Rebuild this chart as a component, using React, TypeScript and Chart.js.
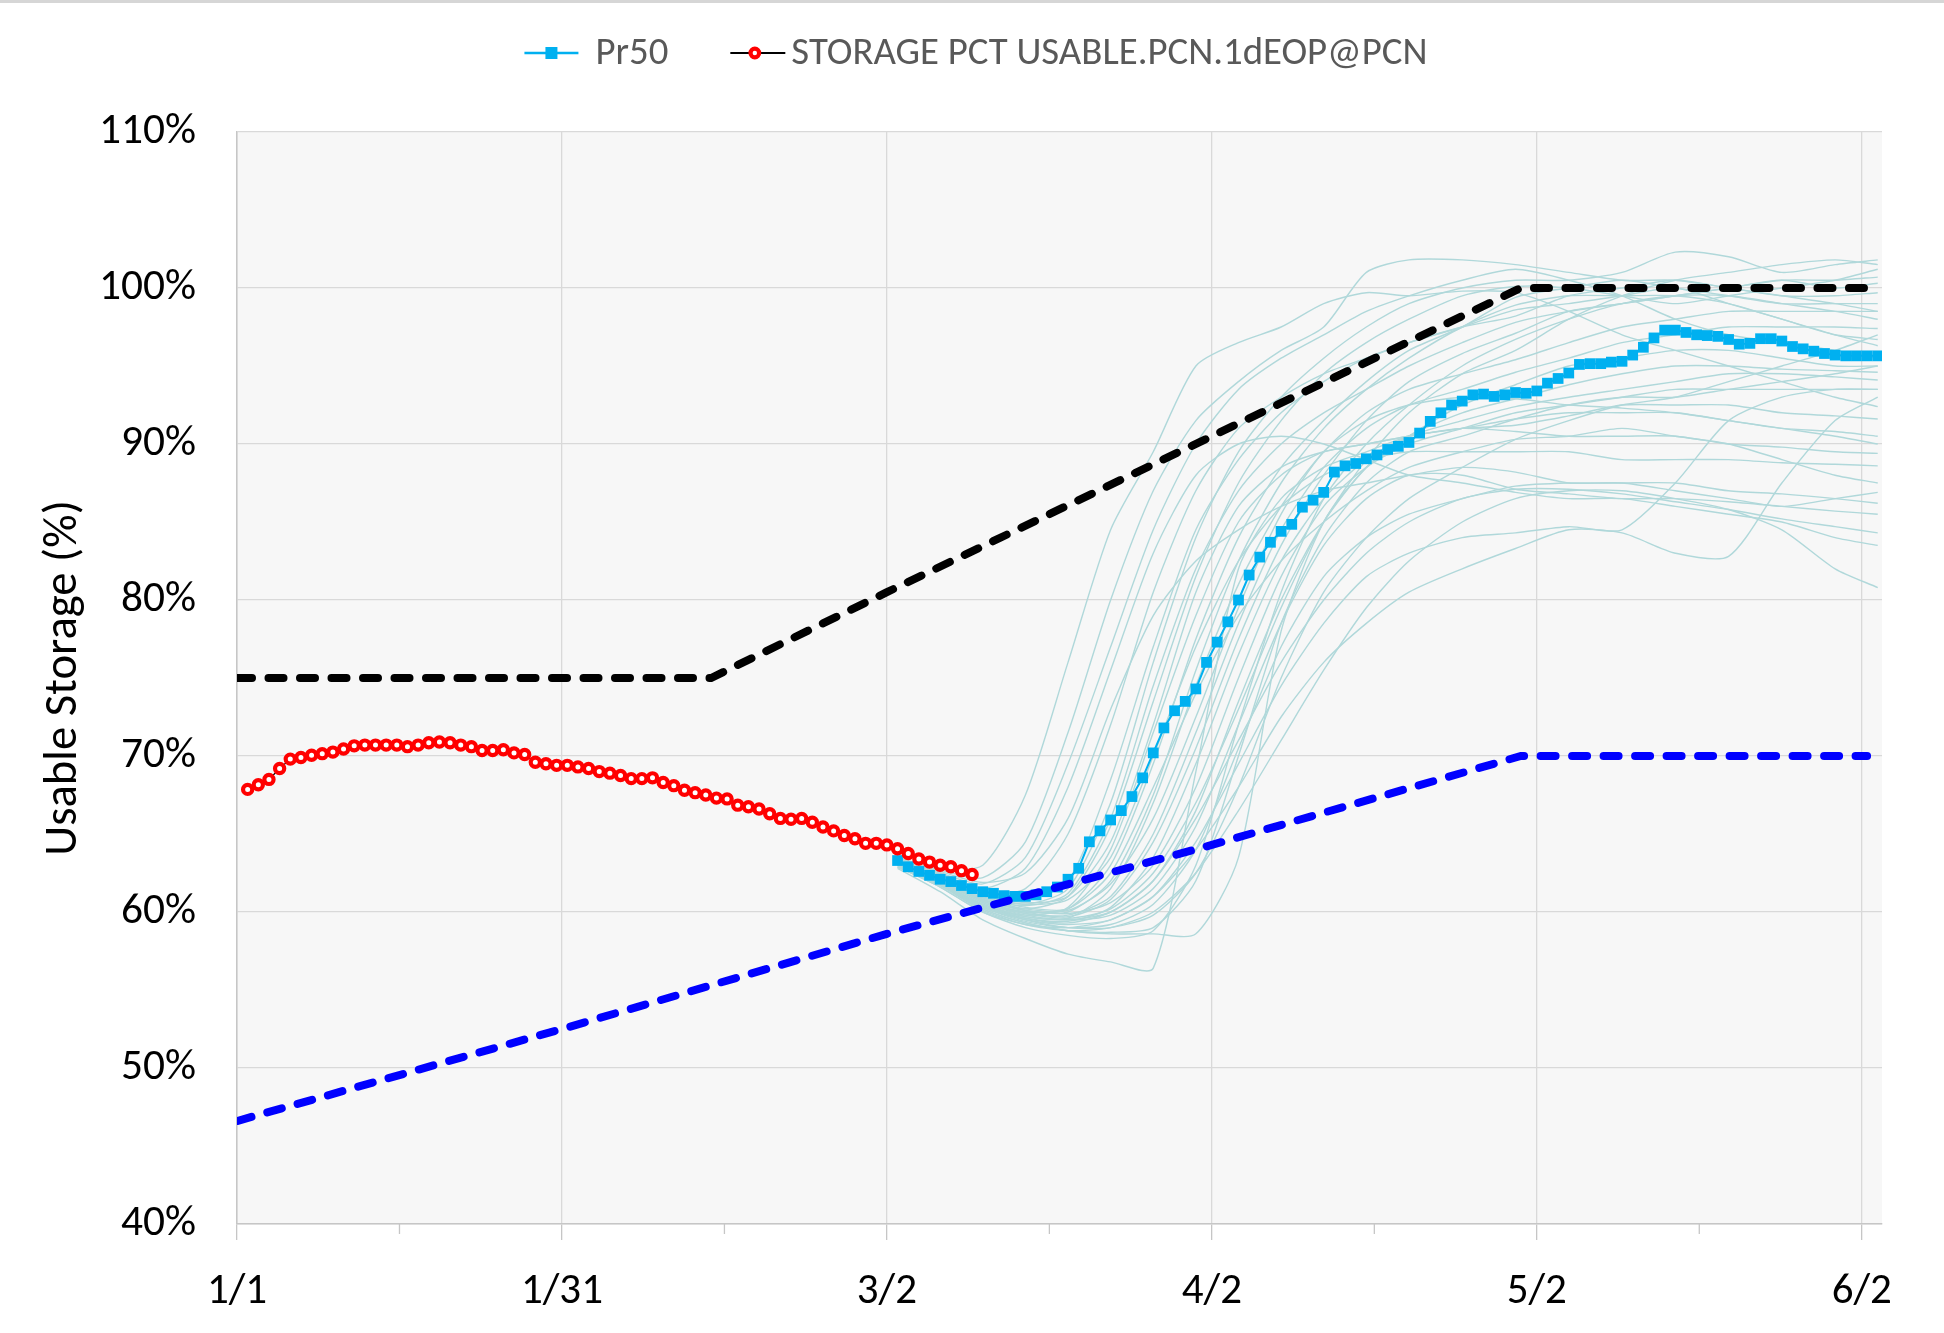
import React, { useEffect, useRef } from 'react';
import { Chart, registerables } from 'chart.js';

Chart.register(...registerables);

// ---------------- data ----------------
const X_TICK_DAYS = [0, 15.25, 30.5, 45.75, 61, 76.25, 91.5, 106.75, 122, 137.25, 152.5];
const X_TICK_LABELS = ['1/1', '', '1/31', '', '3/2', '', '4/2', '', '5/2', '', '6/2'];
const X_MAX_DAY = 154.4;
const Y_MIN = 40;
const Y_MAX = 110;
const Y_STEP = 10;

const LEGEND_PR50 = 'Pr50';
const LEGEND_OBS = 'STORAGE PCT USABLE.PCN.1dEOP@PCN';
const Y_TITLE = 'Usable Storage (%)';

// observed storage, daily from day 1
const OBS_START_DAY = 1;
const OBS_VALUES = [
  67.86, 68.16, 68.5, 69.2, 69.8, 69.9, 70.05, 70.15, 70.25, 70.45,
  70.65, 70.7, 70.7, 70.7, 70.7, 70.6, 70.7, 70.85, 70.9, 70.85,
  70.7, 70.6, 70.35, 70.35, 70.4, 70.2, 70.1, 69.6, 69.5, 69.4,
  69.4, 69.3, 69.2, 69.0, 68.9, 68.75, 68.55, 68.55, 68.6, 68.3,
  68.1, 67.8, 67.65, 67.5, 67.3, 67.25, 66.85, 66.75, 66.6, 66.3,
  66.0, 65.95, 66.0, 65.75, 65.45, 65.2, 64.9, 64.7, 64.4, 64.4,
  64.3, 64.05, 63.75, 63.4, 63.2, 63.0, 62.9, 62.65, 62.4,
];

// Pr50, daily from day 62
const PR50_START_DAY = 62;
const PR50_VALUES = [
  63.3, 62.9, 62.6, 62.35, 62.1, 61.95, 61.7, 61.5, 61.3, 61.2,
  61.05, 61.0, 61.0, 61.1, 61.3, 61.6, 62.1, 62.8, 64.5, 65.2,
  65.9, 66.5, 67.4, 68.6, 70.2, 71.8, 72.9, 73.5, 74.3, 76.0,
  77.3, 78.6, 80.0, 81.6, 82.75, 83.7, 84.4, 84.85, 85.95, 86.4,
  86.9, 88.2, 88.6, 88.75, 89.05, 89.3, 89.65, 89.85, 90.1, 90.7,
  91.45, 92.0, 92.5, 92.75, 93.15, 93.2, 93.05, 93.15, 93.3, 93.25,
  93.4, 93.9, 94.2, 94.55, 95.1, 95.15, 95.15, 95.25, 95.3, 95.7,
  96.2, 96.8, 97.3, 97.3, 97.15, 97.0, 96.95, 96.9, 96.7, 96.4,
  96.45, 96.75, 96.75, 96.6, 96.25, 96.1, 95.95, 95.8, 95.7, 95.65,
  95.65, 95.65, 95.65,
];

// upper (black dashed) and lower (blue dashed) guide curves
const UPPER_DAYS = [0, 44.5, 61, 91.5, 120.5, 153];
const UPPER_VALUES = [75, 75, 80.5, 90.5, 100, 100];
const LOWER_DAYS = [0, 30.5, 61, 91.5, 120.5, 153];
const LOWER_VALUES = [46.6, 52.5, 58.6, 64.3, 70, 70];

// ensemble traces
const ENS_DAYS = [62, 66, 70, 74, 78, 82, 86, 90, 94, 98, 102, 106, 110, 115, 120, 125, 130, 135, 140, 145, 150, 154];
const ENSEMBLE = [
  [63.4, 62.8, 63.0, 67.5, 76.0, 84.5, 89.5, 95.0, 96.5, 97.5, 99.0, 99.7, 99.5, 99.8, 99.7, 98.5, 97.0, 96.0, 95.0, 94.0, 93.0, 92.4],
  [63.5, 62.7, 62.2, 64.5, 71.5, 80.0, 87.0, 91.5, 94.0, 96.0, 97.5, 101.0, 101.8, 101.8, 101.5, 101.0, 100.5, 100.5, 100.0, 99.5, 99.0, 98.5],
  [63.2, 62.3, 61.5, 62.8, 68.0, 75.5, 83.0, 88.0, 90.0, 90.5, 90.0, 89.0, 88.0, 87.5, 86.9, 86.5, 86.5, 86.0, 85.5, 85.0, 84.0, 83.5],
  [63.3, 62.5, 61.8, 63.5, 69.5, 77.0, 84.5, 90.0, 93.5, 95.5, 97.0, 98.5, 99.5, 100.5, 101.2, 100.5, 99.5, 98.0, 97.0, 96.5, 96.0, 95.5],
  [63.1, 62.2, 61.2, 61.5, 65.0, 72.0, 80.5, 87.0, 91.0, 93.0, 94.5, 95.5, 96.5, 97.5, 98.2, 99.5, 100.0, 100.5, 100.0, 99.5, 99.5, 99.7],
  [63.4, 62.6, 61.9, 62.5, 66.0, 73.0, 79.0, 82.5, 84.5, 86.0, 87.0, 87.5, 88.0, 88.5, 88.2, 87.5, 87.5, 87.0, 86.5, 86.0, 86.5, 86.9],
  [63.3, 62.3, 61.0, 60.5, 61.5, 67.0, 76.0, 84.0, 89.5, 93.0, 95.5, 97.5, 99.0, 100.0, 100.5, 100.5, 101.0, 102.3, 102.0, 101.0, 101.5, 101.8],
  [63.0, 62.0, 60.8, 60.2, 61.0, 65.5, 73.5, 81.5, 87.5, 91.5, 94.5, 96.5, 98.0, 99.5, 100.1, 100.0, 99.5, 99.0, 99.5, 100.0, 100.5, 101.2],
  [63.5, 62.5, 61.3, 60.8, 62.0, 68.5, 77.0, 84.5, 89.0, 92.0, 94.0, 95.5, 96.5, 97.5, 98.6, 99.0, 99.5, 100.0, 99.0, 98.0, 97.0, 96.3],
  [63.2, 62.2, 60.9, 60.4, 61.2, 66.0, 74.5, 82.0, 87.0, 90.0, 92.0, 93.5, 95.0, 96.5, 97.8, 98.5, 99.0, 99.5, 100.0, 100.5, 100.5, 100.7],
  [63.0, 61.9, 60.5, 59.8, 60.3, 64.0, 71.5, 79.0, 85.0, 88.0, 89.5, 90.0, 90.5, 91.0, 91.2, 91.8, 92.5, 92.5, 92.5, 92.0, 91.8, 91.6],
  [63.3, 62.4, 61.2, 60.6, 61.0, 64.5, 72.0, 80.5, 86.0, 88.5, 89.5, 90.0, 90.5, 91.0, 90.8, 90.5, 90.5, 90.5, 90.0, 89.8, 89.5, 89.4],
  [63.1, 62.0, 60.7, 60.0, 60.2, 63.0, 69.5, 77.5, 84.0, 88.5, 91.5, 94.0, 96.0, 97.5, 99.4, 100.0, 100.5, 100.0, 99.5, 99.0, 99.0, 99.0],
  [63.4, 62.4, 61.1, 60.5, 60.8, 63.5, 70.0, 77.0, 82.5, 86.0, 88.0, 89.0, 89.5, 89.5, 89.5, 89.5, 89.0, 89.0, 89.0, 88.8, 88.7, 88.6],
  [63.2, 62.1, 60.8, 60.1, 60.0, 62.0, 67.5, 75.5, 82.5, 87.5, 91.0, 93.5, 95.5, 97.5, 98.9, 99.5, 99.5, 99.5, 99.0, 98.0, 97.0, 96.7],
  [63.0, 61.8, 60.4, 59.7, 59.6, 61.5, 67.0, 74.5, 81.0, 86.0, 89.5, 92.0, 93.5, 94.5, 95.4, 96.5, 97.5, 98.0, 98.5, 98.5, 98.5, 98.5],
  [63.3, 62.2, 60.9, 60.2, 60.1, 61.8, 66.0, 72.5, 79.5, 85.5, 89.5, 91.5, 92.5, 93.0, 92.9, 92.5, 92.3, 92.0, 91.5, 91.0, 90.5, 90.0],
  [63.1, 62.0, 60.6, 59.9, 59.8, 61.0, 65.0, 71.5, 78.5, 84.5, 88.5, 91.0, 92.5, 93.5, 94.6, 95.5, 96.5, 97.0, 97.5, 97.5, 97.5, 97.4],
  [63.4, 62.3, 61.0, 60.3, 60.2, 62.5, 68.0, 74.0, 79.0, 82.5, 85.0, 87.0, 88.5, 89.5, 90.3, 90.5, 91.0, 90.5, 90.0, 89.0, 88.0, 87.5],
  [63.2, 62.1, 60.7, 60.0, 59.7, 60.8, 64.5, 70.5, 77.5, 83.5, 88.0, 91.5, 94.0, 95.8, 97.1, 98.5, 99.0, 99.5, 100.0, 100.5, 100.0, 100.3],
  [63.0, 61.9, 60.4, 59.6, 59.4, 60.3, 63.5, 69.5, 76.5, 82.5, 86.5, 89.0, 90.5, 91.5, 92.4, 93.0, 93.5, 94.0, 94.5, 94.5, 94.3, 94.1],
  [63.3, 62.2, 60.8, 60.1, 59.9, 60.6, 63.0, 68.0, 75.0, 81.5, 86.0, 88.5, 90.0, 91.0, 92.0, 92.5, 93.0, 93.5, 93.5, 93.5, 93.5, 93.5],
  [63.1, 61.9, 60.5, 59.7, 59.5, 60.0, 62.0, 66.5, 73.5, 80.0, 85.0, 88.5, 90.5, 92.5, 93.8, 95.0, 95.5, 96.0, 96.0, 95.5, 95.0, 95.0],
  [63.2, 62.0, 60.6, 59.8, 59.5, 59.8, 61.5, 65.5, 72.0, 78.5, 83.5, 86.5, 88.0, 88.0, 87.1, 86.8, 86.5, 86.5, 86.3, 86.0, 85.7, 85.5],
  [63.0, 61.8, 60.2, 59.3, 58.8, 58.7, 59.0, 62.0, 70.0, 78.5, 84.0, 87.5, 89.5, 90.5, 91.6, 92.5, 93.0, 93.0, 93.5, 94.0, 94.5, 95.0],
  [62.9, 61.6, 60.0, 59.0, 58.5, 58.3, 58.8, 63.0, 72.0, 80.5, 86.5, 90.0, 92.5, 95.0, 96.7, 98.0, 99.0, 99.5, 99.5, 99.0, 98.5, 98.0],
  [62.8, 61.3, 59.5, 58.3, 57.3, 56.8, 56.4, 69.0, 82.0, 86.5, 88.5, 89.5, 90.5, 91.0, 91.6, 92.0, 92.0, 92.0, 91.5, 91.0, 90.8, 90.5],
  [63.0, 61.7, 60.2, 59.3, 58.8, 58.6, 58.6, 58.6, 63.5, 78.0, 85.0, 88.5, 90.5, 92.0, 92.9, 93.8, 94.5, 95.0, 95.0, 94.8, 94.7, 94.6],
  [63.1, 61.9, 60.4, 59.5, 59.0, 59.0, 59.8, 62.5, 68.0, 75.0, 80.5, 84.0, 86.5, 88.5, 90.3, 91.5, 92.5, 93.0, 94.0, 95.0, 96.0, 97.0],
  [63.0, 61.8, 60.3, 59.4, 59.0, 59.2, 60.5, 64.0, 70.5, 77.0, 81.5, 84.0, 85.5, 86.5, 87.3, 87.5, 87.5, 87.5, 87.0, 86.8, 86.5, 86.2],
  [62.9, 61.6, 60.0, 59.2, 59.0, 59.5, 61.0, 64.0, 68.0, 72.5, 76.0, 78.5, 80.5, 82.0, 83.3, 84.5, 84.3, 83.0, 82.8, 87.5, 91.5, 93.0],
  [62.9, 61.7, 60.1, 59.2, 58.8, 59.0, 60.0, 62.5, 66.5, 71.0, 75.5, 79.5, 82.5, 85.0, 86.5, 87.0, 87.0, 86.5, 85.8, 84.5, 82.0, 80.8],
  [63.0, 61.8, 60.3, 59.5, 59.2, 59.5, 61.0, 64.5, 69.5, 74.5, 78.5, 81.5, 83.0, 84.0, 84.3, 84.7, 84.5, 87.5, 91.5, 93.0, 93.5, 93.5],
  [63.1, 61.9, 60.4, 59.6, 59.3, 60.0, 62.0, 66.0, 71.0, 76.0, 80.0, 83.0, 85.0, 86.5, 87.1, 87.1, 86.8, 86.3, 85.8, 85.2, 84.7, 84.3],
  [63.2, 62.1, 60.7, 59.9, 59.6, 60.2, 62.5, 67.0, 73.0, 79.5, 85.0, 89.0, 92.0, 94.5, 96.0, 98.0, 99.5, 100.5, 101.0, 101.5, 101.8, 101.5],
];

// ---------------- styles ----------------
const W = 1944;
const H = 1333;
const PLOT_BG = '#f7f7f7';
const GRID = '#d9d9d9';
const AXIS = '#c6c6c6';
const PR50_COLOR = '#00b0f0';
const OBS_COLOR = '#ff0000';
const ENS_COLOR = '#b0d8da';
const LEGEND_TEXT = '#595959';

function fontAvailable(name: string): boolean {
  const c = document.createElement('canvas').getContext('2d');
  if (!c) return false;
  const s = 'abcdefghijklmnopqrstuvwxyzABCDEFGHIJKLMNOPQRSTUVWXYZ0123456789%/@.';
  for (const base of ['monospace', 'serif']) {
    c.font = `72px ${base}`;
    const w0 = c.measureText(s).width;
    c.font = `72px "${name}", ${base}`;
    const w1 = c.measureText(s).width;
    if (Math.abs(w1 - w0) > 0.5) return true;
  }
  return false;
}

function pickFamily(): string {
  const cands = ['Carlito', 'Liberation Sans Narrow', 'Liberation Sans', 'Arial'];
  for (const c of cands) if (fontAvailable(c)) return `"${c}"`;
  return 'sans-serif';
}

function fitSize(family: string, text: string, width: number): number {
  const c = document.createElement('canvas').getContext('2d');
  if (!c) return 40;
  c.font = `100px ${family}`;
  const w = c.measureText(text).width;
  return Math.round((width / w) * 1000) / 10;
}

export default function App() {
  const ref = useRef<HTMLCanvasElement | null>(null);

  useEffect(() => {
    if (!ref.current) return;
    const family = pickFamily();
    const tickSize = Math.min(48, fitSize(family, '110%', 97));
    const xTickSize = Math.min(48, fitSize(family, '1/31', 82));
    const legendSize = Math.min(44, fitSize(family, LEGEND_OBS, 637));
    const titleSize = Math.min(48, fitSize(family, Y_TITLE, 356));

    const plotBg = {
      id: 'plotBg',
      beforeDraw(chart: any) {
        const { ctx, chartArea } = chart;
        ctx.save();
        ctx.fillStyle = '#ffffff';
        ctx.fillRect(0, 0, chart.width, chart.height);
        ctx.fillStyle = '#d6d6d6';
        ctx.fillRect(0, 0, chart.width, 3);
        ctx.fillStyle = PLOT_BG;
        ctx.fillRect(chartArea.left, chartArea.top, chartArea.right - chartArea.left, chartArea.bottom - chartArea.top);
        ctx.restore();
      },
      afterDraw(chart: any) {
        const { ctx } = chart;
        const xs = chart.scales.x;
        ctx.save();
        ctx.strokeStyle = AXIS;
        ctx.lineWidth = 1.3;
        xs.ticks.forEach((t: any, i: number) => {
          if (i % 2 === 1) {
            const px = xs.getPixelForValue(t.value);
            ctx.beginPath();
            ctx.moveTo(px, xs.top);
            ctx.lineTo(px, xs.top + 10);
            ctx.stroke();
          }
        });
        ctx.restore();
      },
    };

    const legendPlugin = {
      id: 'comboLegend',
      afterDraw(chart: any) {
        const { ctx } = chart;
        ctx.save();
        ctx.font = `${legendSize}px ${family}`;
        const w1 = ctx.measureText(LEGEND_PR50).width;
        const w2 = ctx.measureText(LEGEND_OBS).width;
        const sym1 = 54, gap1 = 17, between = 62, sym2 = 55, gap2 = 6;
        const total = sym1 + gap1 + w1 + between + sym2 + gap2 + w2;
        let x = (chart.width - total) / 2 + 4;
        const y = 53;
        // Pr50 symbol
        ctx.strokeStyle = PR50_COLOR;
        ctx.lineWidth = 2.5;
        ctx.beginPath();
        ctx.moveTo(x, y);
        ctx.lineTo(x + sym1, y);
        ctx.stroke();
        ctx.fillStyle = PR50_COLOR;
        ctx.fillRect(x + sym1 / 2 - 6, y - 6, 12, 12);
        x += sym1 + gap1;
        ctx.fillStyle = LEGEND_TEXT;
        ctx.textBaseline = 'middle';
        ctx.textAlign = 'left';
        ctx.fillText(LEGEND_PR50, x, y + 1);
        x += w1 + between;
        // observed symbol
        ctx.strokeStyle = '#000000';
        ctx.lineWidth = 2;
        ctx.beginPath();
        ctx.moveTo(x, y);
        ctx.lineTo(x + sym2, y);
        ctx.stroke();
        ctx.beginPath();
        ctx.arc(x + sym2 / 2 - 3, y, 4.3, 0, Math.PI * 2);
        ctx.fillStyle = '#ffffff';
        ctx.fill();
        ctx.strokeStyle = OBS_COLOR;
        ctx.lineWidth = 4.2;
        ctx.stroke();
        x += sym2 + gap2;
        ctx.fillStyle = LEGEND_TEXT;
        ctx.fillText(LEGEND_OBS, x, y + 1);
        ctx.restore();
      },
    };

    const datasets: any[] = [];
    datasets.push({
      label: LEGEND_OBS,
      data: OBS_VALUES.map((v, i) => ({ x: OBS_START_DAY + i, y: v })),
      borderColor: '#000000',
      borderWidth: 1.2,
      pointStyle: 'circle',
      pointRadius: 4.6,
      pointBorderWidth: 4.2,
      pointBorderColor: OBS_COLOR,
      pointBackgroundColor: '#ffffff',
      order: 0,
    });
    datasets.push({
      label: 'upper',
      data: UPPER_DAYS.map((d, i) => ({ x: d, y: UPPER_VALUES[i] })),
      borderColor: '#000000',
      borderWidth: 8,
      borderDash: [15, 16.5],
      borderCapStyle: 'round',
      pointRadius: 0,
      order: 1,
    });
    datasets.push({
      label: 'lower',
      data: LOWER_DAYS.map((d, i) => ({ x: d, y: LOWER_VALUES[i] })),
      borderColor: '#0000ff',
      borderWidth: 8,
      borderDash: [15, 16.5],
      borderCapStyle: 'round',
      pointRadius: 0,
      order: 1,
    });
    datasets.push({
      label: LEGEND_PR50,
      data: PR50_VALUES.map((v, i) => ({ x: PR50_START_DAY + i, y: v })),
      borderColor: PR50_COLOR,
      borderWidth: 2,
      pointStyle: 'rect',
      pointRadius: 7.6,
      pointBorderWidth: 0,
      pointBackgroundColor: PR50_COLOR,
      order: 2,
    });
    ENSEMBLE.forEach((trace, k) => {
      datasets.push({
        label: `ens${k}`,
        data: trace.map((v, i) => ({ x: ENS_DAYS[i], y: v })),
        borderColor: ENS_COLOR,
        borderWidth: 1.4,
        pointRadius: 0,
        tension: 0.25,
        order: 3,
      });
    });

    const chart = new Chart(ref.current, {
      type: 'line',
      data: { datasets },
      plugins: [plotBg, legendPlugin],
      options: {
        animation: false,
        responsive: false,
        devicePixelRatio: 1,
        events: [],
        layout: { padding: { top: 132, right: 62, bottom: 0, left: 0 } },
        plugins: { legend: { display: false }, tooltip: { enabled: false } },
        scales: {
          x: {
            type: 'linear',
            min: 0,
            max: X_MAX_DAY,
            afterBuildTicks: (scale: any) => {
              scale.ticks = X_TICK_DAYS.map((v) => ({ value: v }));
            },
            afterFit: (scale: any) => {
              scale.height = H - 1224;
            },
            border: { display: true, color: AXIS, width: 1.5 },
            grid: {
              color: (c: any) => (c.index % 2 === 0 ? GRID : 'rgba(0,0,0,0)'),
              lineWidth: 1.3,
              drawTicks: true,
              tickLength: 16,
              tickColor: (c: any) => (c.index % 2 === 0 ? AXIS : 'rgba(0,0,0,0)'),
              tickWidth: 1.3,
            },
            ticks: {
              autoSkip: false,
              maxRotation: 0,
              minRotation: 0,
              padding: 26,
              color: '#000000',
              font: { family, size: xTickSize },
              callback: (_v: any, i: number) => X_TICK_LABELS[i],
            },
          },
          y: {
            min: Y_MIN,
            max: Y_MAX,
            afterFit: (scale: any) => {
              scale.width = 237;
            },
            border: { display: true, color: AXIS, width: 1.5 },
            grid: { color: GRID, lineWidth: 1.3, drawTicks: false },
            ticks: {
              stepSize: Y_STEP,
              padding: 41,
              color: '#000000',
              font: { family, size: tickSize },
              callback: (v: any) => `${v}%`,
            },
            title: {
              display: true,
              text: Y_TITLE,
              color: '#000000',
              font: { family, size: titleSize },
              padding: { top: 64 - titleSize * 0.6, bottom: 0 },
            },
          },
        },
      },
    });
    return () => chart.destroy();
  }, []);

  return (
    <div style={{ position: 'fixed', left: 0, top: 0, width: W, height: H, background: '#ffffff' }}>
      <canvas ref={ref} width={W} height={H} style={{ display: 'block' }} />
    </div>
  );
}
